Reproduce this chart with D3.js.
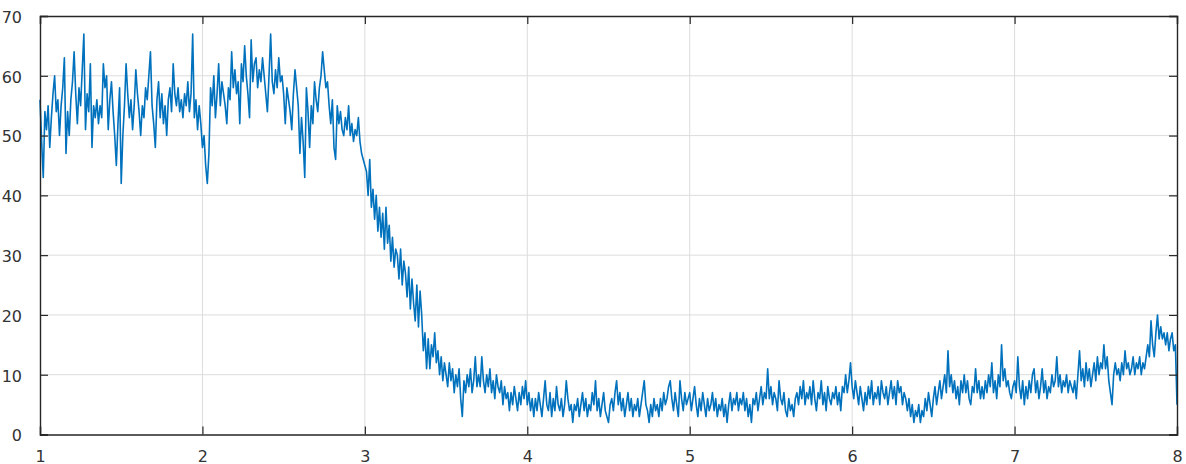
<!DOCTYPE html>
<html>
<head>
<meta charset="utf-8">
<script src="https://cdn.jsdelivr.net/npm/d3@7"></script>
<style>
  body { margin: 0; background: #fff; }
  svg { display: block; }
  .tick text { font-family: "DejaVu Sans", sans-serif; }
</style>
</head>
<body>
<div id="chart"></div>
<script>
// sampled signal, one value every 0.01 from x = 1 to x = 8
const x0 = 1;
const step = 0.01;

const seg1 = [56,49,43,54,51,55,48,53,57,60, 54,56,50,55,58,63,47,54,50,56,
  59,64,57,52,58,55,61,67,51,57, 54,62,48,55,53,56,52,55,53,62,
  58,60,51,56,59,54,50,45,52,58, 42,50,55,62,57,53,56,51,55,61,
  57,54,50,55,53,58,56,60,64,55, 52,48,56,59,53,57,52,55,50,56,
  58,54,62,57,55,58,54,56,53,57, 55,59,54,57,67,53,56,51,55,52];
const seg2 = [48,50,45,42,47,58,55,60,53,57, 62,55,59,57,55,52,58,56,64,58,
  61,57,59,52,62,59,65,60,57,53, 66,59,62,63,58,61,59,63,60,57,
  54,60,67,59,57,61,58,63,59,60, 57,52,58,56,54,51,57,61,58,55,
  47,53,49,43,58,54,48,55,52,59, 56,54,58,60,64,61,58,59,55,52,
  56,48,46,55,52,54,51,50,53,51, 55,50,52,49,51,50,53,49,47,46];
const seg3 = [45,44,40,46,38,41,36,40,34,38, 33,37,31,38,32,35,29,33,28,31,
  30,26,31,25,29,27,23,28,21,26, 22,19,25,18,24,20,14,17,11,16,
  11,15,13,17,12,14,10,13,9,12, 10,8,12,9,11,7,10,8,11,6,
  3,9,7,10,8,11,7,9,13,8, 10,8,13,9,7,10,8,11,7,9,
  6,10,8,7,9,5,8,6,7,4, 7,5,8,6,4,7,5,8,6,9];
const seg4 = [5,7,4,6,3,6,4,7,5,3, 6,9,5,4,7,3,6,4,8,5,
  4,6,3,5,9,6,4,5,2,5, 4,6,3,5,7,4,6,3,5,4,
  7,5,9,4,6,3,5,7,4,3, 2,5,6,4,7,9,5,7,4,6,
  3,5,7,4,6,3,5,4,6,3, 5,7,9,5,4,2,5,3,6,4,
  5,3,6,4,7,5,6,8,9,6, 4,7,5,3,9,6,4,7,5,6];
const seg5 = [7,4,6,8,5,3,6,4,7,5, 3,6,4,5,7,4,6,3,5,4,
  6,3,5,2,5,7,4,6,5,7, 4,6,5,7,4,6,3,5,2,6,
  5,7,4,6,8,5,7,6,11,6, 8,5,7,6,4,9,6,5,7,4,
  3,6,4,5,3,6,7,5,8,6, 9,5,7,6,8,5,9,6,4,7,
  6,9,5,7,4,8,6,5,7,6, 8,5,7,4,8,7,10,7,9,12];
const seg6 = [8,6,9,7,5,8,6,4,7,5, 8,6,9,5,7,6,8,5,9,7,
  6,8,5,7,9,6,8,5,9,7, 8,5,7,6,4,6,3,5,2,4,
  3,5,2,4,3,6,4,7,5,3, 6,8,5,7,9,6,8,10,7,14,
  8,10,7,9,6,8,5,9,7,10, 7,9,6,5,8,7,11,7,9,6,
  8,6,9,7,10,8,12,7,9,6, 10,8,15,9,11,8,9,7,6,8];
const seg7 = [9,7,13,8,6,9,5,8,6,9, 7,10,11,7,9,6,8,11,7,9,
  6,8,7,10,8,9,13,8,10,7, 9,8,10,7,9,8,7,9,6,10,
  14,9,11,8,12,9,11,8,10,12, 9,13,10,12,11,15,11,13,9,7,
  5,10,12,10,11,9,12,10,14,11, 12,10,11,13,10,12,11,13,10,12,
  11,13,15,13,19,15,13,17,20,16, 18,16,17,15,17,14,16,17,14,15];
const lastValue = [5];

const xTicks = [1, 2, 3, 4, 5, 6, 7, 8];
const yTicks = [0, 10, 20, 30, 40, 50, 60, 70];

const signal = [].concat(seg1, seg2, seg3, seg4, seg5, seg6, seg7, lastValue)
  .map((v, i) => ({ t: x0 + i * step, v: v }));

const W = 1186, H = 464;
const margin = { top: 16, right: 9, bottom: 29.5, left: 40 };
const width = W - margin.left - margin.right;
const height = H - margin.top - margin.bottom;

const svg = d3.select("#chart").append("svg")
  .attr("width", W)
  .attr("height", H);

const g = svg.append("g")
  .attr("transform", `translate(${margin.left},${margin.top})`);

const x = d3.scaleLinear().domain([1, 8]).range([0, width]);
const y = d3.scaleLinear().domain([0, 70]).range([height, 0]);

// grid
g.append("g")
  .selectAll("line.gx")
  .data(xTicks.slice(1, -1))
  .join("line")
  .attr("x1", d => x(d)).attr("x2", d => x(d))
  .attr("y1", 0).attr("y2", height)
  .attr("stroke", "#dcdcdc").attr("stroke-width", 1);

g.append("g")
  .selectAll("line.gy")
  .data(yTicks.slice(1, -1))
  .join("line")
  .attr("x1", 0).attr("x2", width)
  .attr("y1", d => y(d)).attr("y2", d => y(d))
  .attr("stroke", "#dcdcdc").attr("stroke-width", 1);

// the signal
const line = d3.line().x(d => x(d.t)).y(d => y(d.v));
g.append("path")
  .datum(signal)
  .attr("fill", "none")
  .attr("stroke", "#0072BD")
  .attr("stroke-width", 1.6)
  .attr("stroke-linejoin", "round")
  .attr("d", line);

// axes, matlab style: ticks inside, box all round
const tickLen = 8;
const axisColor = "#262626";

const xAxis = g.append("g")
  .attr("transform", `translate(0,${height})`)
  .call(d3.axisBottom(x).tickValues(xTicks).tickSize(-tickLen).tickPadding(tickLen + 19).tickFormat(d3.format("d")));
const yAxis = g.append("g")
  .call(d3.axisLeft(y).tickValues(yTicks).tickSize(-tickLen).tickPadding(tickLen + 10));
const xTop = g.append("g")
  .call(d3.axisTop(x).tickValues(xTicks).tickSize(-tickLen).tickFormat(""));
const yRight = g.append("g")
  .attr("transform", `translate(${width},0)`)
  .call(d3.axisRight(y).tickValues(yTicks).tickSize(-tickLen).tickFormat(""));

[xAxis, yAxis, xTop, yRight].forEach(a => {
  a.select(".domain").attr("stroke", axisColor).attr("stroke-width", 1.4);
  a.selectAll(".tick line").attr("stroke", axisColor).attr("stroke-width", 1.2);
  a.selectAll(".tick text").attr("fill", "#333").attr("font-size", 16);
});
xAxis.selectAll(".tick text").attr("dy", 0);
yAxis.selectAll(".tick text").attr("dy", "0.4em");
</script>
</body>
</html>
